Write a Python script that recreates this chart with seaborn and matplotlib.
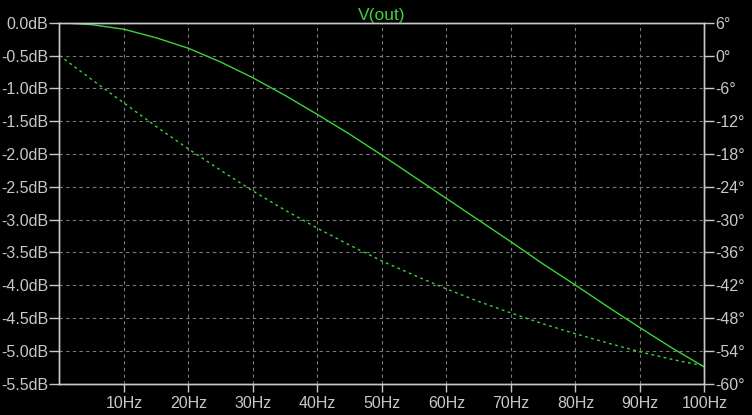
import matplotlib
matplotlib.use("Agg")
import matplotlib.pyplot as plt
import seaborn as sns
import pandas as pd

# ---------------------------------------------------------------------------
# values
freq_hz = [0, 5, 10, 15, 20, 25, 30, 35, 40, 45, 50,
           55, 60, 65, 70, 75, 80, 85, 90, 95, 100]
mag_db = [0.0, -0.03, -0.10, -0.23, -0.39, -0.60, -0.84, -1.11, -1.40, -1.70, -2.02,
          -2.35, -2.68, -3.01, -3.34, -3.68, -4.00, -4.33, -4.65, -4.96, -5.25]
phase_deg = [0.0, -4.4, -8.7, -13.0, -17.1, -21.0, -24.8, -28.3, -31.6, -34.7, -37.6,
             -40.2, -42.7, -45.0, -47.1, -49.1, -50.9, -52.6, -54.2, -55.6, -56.8]

x_ticks = [10, 20, 30, 40, 50, 60, 70, 80, 90, 100]
x_labels = ["10Hz", "20Hz", "30Hz", "40Hz", "50Hz", "60Hz", "70Hz", "80Hz", "90Hz", "100Hz"]
db_ticks = [0.0, -0.5, -1.0, -1.5, -2.0, -2.5, -3.0, -3.5, -4.0, -4.5, -5.0, -5.5]
db_labels = ["0.0dB", "-0.5dB", "-1.0dB", "-1.5dB", "-2.0dB", "-2.5dB",
             "-3.0dB", "-3.5dB", "-4.0dB", "-4.5dB", "-5.0dB", "-5.5dB"]
deg_ticks = [6, 0, -6, -12, -18, -24, -30, -36, -42, -48, -54, -60]
deg_labels = ["6°", "0°", "-6°", "-12°", "-18°", "-24°", "-30°",
              "-36°", "-42°", "-48°", "-54°", "-60°"]
trace_name = "V(out)"

# ---------------------------------------------------------------------------
df = pd.DataFrame({"freq": freq_hz, "mag": mag_db, "phase": phase_deg})

sns.set_style("ticks")
plt.rcParams['font.family'] = ['Liberation Sans', 'DejaVu Sans']

fg = "#c8c8c8"
grid_c = "#7a7a7a"
trace_c = "#3cd23c"

fig = plt.figure(figsize=(7.52, 4.15), dpi=100, facecolor="black")
ax = fig.add_axes([0.0791, 0.0759, 0.8577, 0.8694])
ax.set_facecolor("black")

sns.lineplot(data=df, x="freq", y="mag", ax=ax, color=trace_c, linewidth=1.0)

ax2 = ax.twinx()
sns.lineplot(data=df, x="freq", y="phase", ax=ax2, color=trace_c,
             linewidth=1.0, linestyle=(0, (2, 2.5)))

ax.set_xlim(0, 100)
ax.set_ylim(-5.5, 0.0)
ax2.set_ylim(-60, 6)

ax.set_xticks(x_ticks)
ax.set_xticklabels(x_labels)
ax.set_yticks(db_ticks)
ax.set_yticklabels(db_labels)
ax2.set_yticks(deg_ticks)
ax2.set_yticklabels(deg_labels)

ax.grid(True, color=grid_c, linestyle=(0, (3, 3)), linewidth=0.8)
ax.set_xlabel("")
ax.set_ylabel("")
ax2.set_ylabel("")

for a in (ax, ax2):
    for s in a.spines.values():
        s.set_color(fg)
        s.set_linewidth(1.0)
    a.tick_params(colors=fg, labelsize=11.5, length=7, width=1.0, pad=1)
ax.tick_params(axis="x", length=6, pad=3)

ax.set_title(trace_name, color=trace_c, fontsize=12.5, pad=2)

fig.savefig("out.png", dpi=100, facecolor="black")
